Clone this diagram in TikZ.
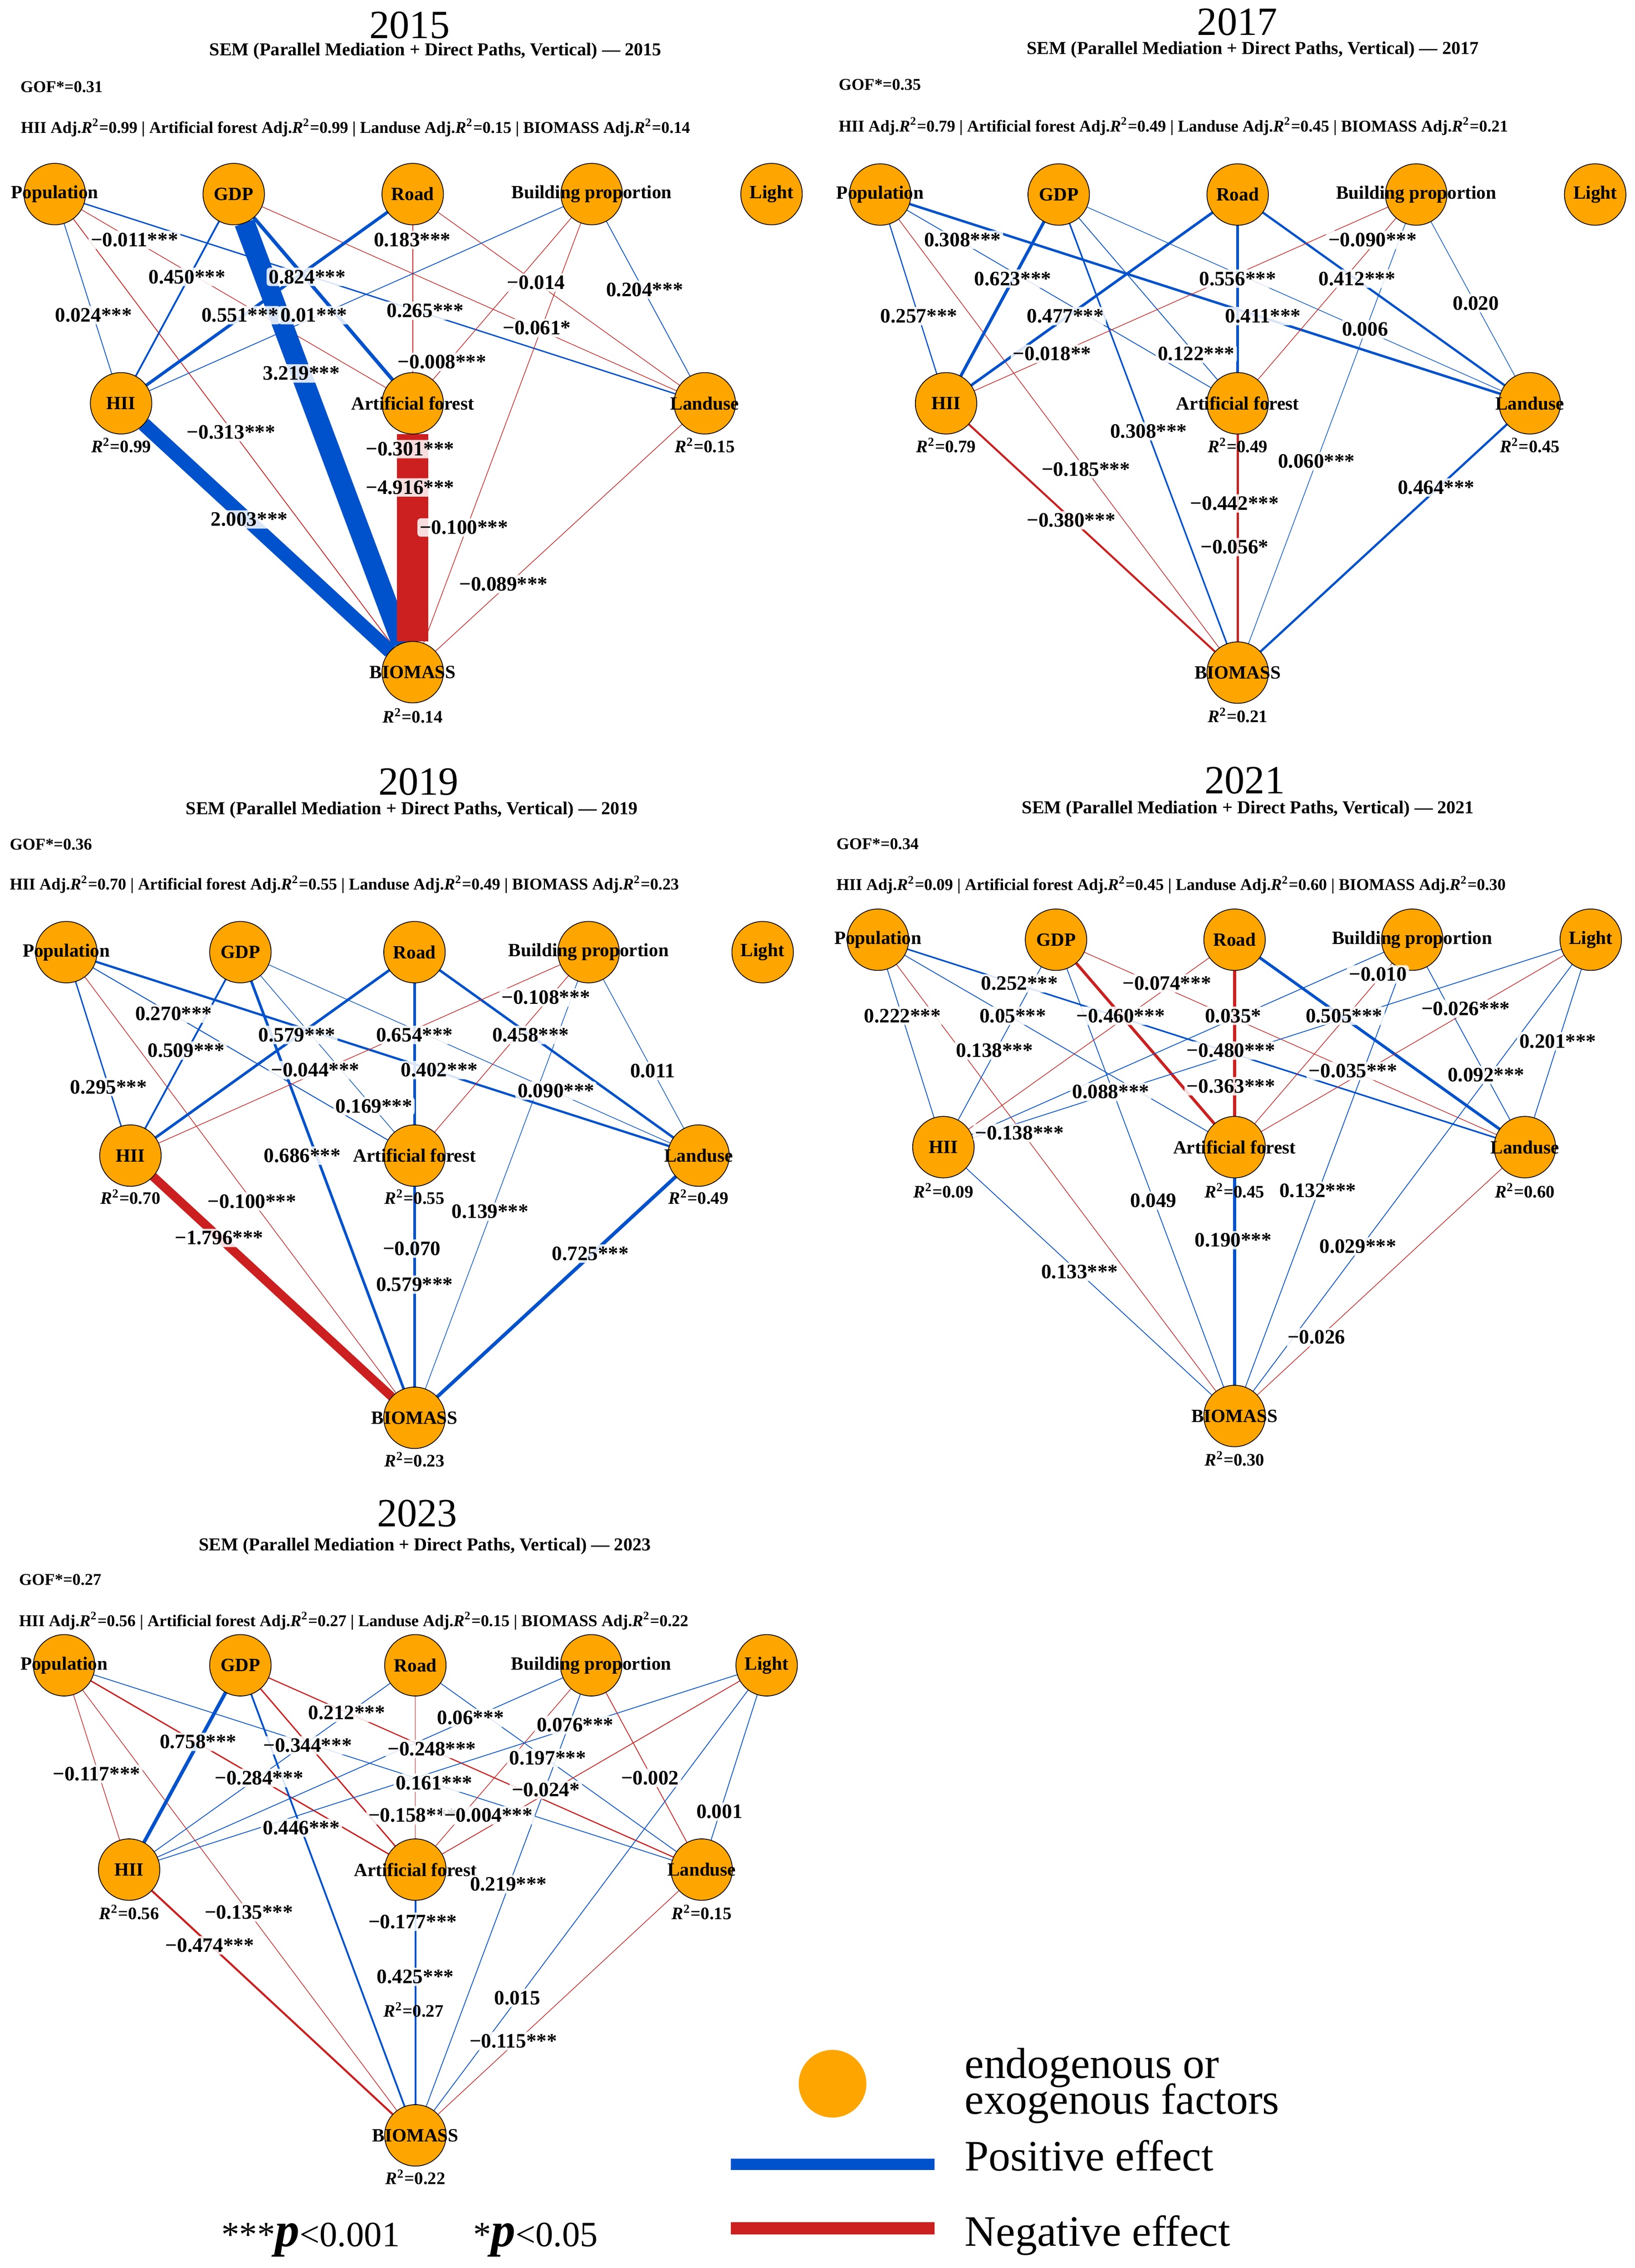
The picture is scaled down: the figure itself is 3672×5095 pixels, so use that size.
\documentclass[tikz,border=0pt]{standalone}
\usepackage{fontspec}
\setmainfont{Liberation Serif}
\definecolor{posblue}{RGB}{0,82,204}
\definecolor{negred}{RGB}{204,32,32}
\definecolor{nodeor}{RGB}{255,165,0}
\pgfdeclarelayer{bg}
\pgfdeclarelayer{edges}
\pgfsetlayers{bg,edges,main}
\tikzset{
  circ/.style={circle, draw=black, line width=0.35pt, fill=nodeor, minimum size=27.6pt, inner sep=0pt, outer sep=0pt},
  nlab/.style={font=\bfseries\fontsize{8.4}{9}\selectfont, inner sep=0pt},
  elab/.style={font=\bfseries\fontsize{9.2}{10}\selectfont, fill=white, fill opacity=0.85, text opacity=1, inner sep=1pt, rounded corners=1.5pt},
  rlab/.style={font=\bfseries\fontsize{7.9}{9}\selectfont, inner sep=0pt},
  ttl/.style={font=\fontsize{18}{20}\selectfont, inner sep=0pt},
  subt/.style={font=\bfseries\fontsize{8.2}{9}\selectfont, inner sep=0pt},
  info/.style={font=\bfseries\fontsize{7.4}{8}\selectfont, anchor=west, inner sep=0pt},
  legt/.style={font=\fontsize{19.5}{20}\selectfont, anchor=base west, inner sep=0pt},
  pvt/.style={font=\fontsize{16}{16}\selectfont, anchor=base west, inner sep=0pt},
}
\newcommand\mknode[4]{\node[circ] (#1) at (#2,#3) {}; \node[nlab] (#1t) at (#1) {#4};}
\newcommand\posE[3]{\draw[draw=posblue,line width=#3pt] (#1) -- (#2);}
\newcommand\negE[3]{\draw[draw=negred,line width=#3pt] (#1) -- (#2);}
\newcounter{lbc}
\newcommand\elb[3]{\stepcounter{lbc}\node[elab] (lab\arabic{lbc}) at (#1,#2) {#3};}
\newcommand\rsq[4]{\node[rlab] (#1) at (#2,#3) {\textit{R}\textsuperscript{2}=#4};}
\newcommand\adjR{Adj.\textit{R}\textsuperscript{2}}
\newcommand\subline[1]{SEM (Parallel Mediation + Direct Paths, Vertical) — #1}
\newcommand\bigp{\textbf{\textit{\fontsize{22}{22}\selectfont p}}}

\begin{document}
\begin{tikzpicture}[x=0.2pt,y=-0.2pt]
\useasboundingbox (0,0) rectangle (3672,5095);
\begin{pgfonlayer}{bg}
\fill[white] (0,0) rectangle (3672,5095);
\end{pgfonlayer}

% ================= 2015 =================
\begin{scope}
\node[ttl] (aT) at (920,57) {2015};
\node[subt] (aS) at (978,115) {\subline{2015}};
\node[info] (aGOF) at (45,195) {GOF*=0.31};
\node[info] (aADJ) at (46,287) {HII \adjR=0.99 | Artificial forest \adjR=0.99 | Landuse \adjR=0.15 | BIOMASS \adjR=0.14};
\mknode{aP}{123}{436}{Population}
\mknode{aG}{525}{436}{GDP}
\mknode{aR}{927}{436}{Road}
\mknode{aB}{1329}{436}{Building proportion}
\mknode{aL}{1733}{436}{Light}
\mknode{aH}{272}{906}{HII}
\mknode{aA}{927}{906}{Artificial forest}
\mknode{aU}{1583}{906}{Landuse}
\mknode{aY}{927}{1510}{BIOMASS}
\begin{pgfonlayer}{edges}
\posE{aP}{aU}{0.6}
\posE{aP}{aH}{0.35}
\negE{aP}{aA}{0.28}
\negE{aP}{aY}{0.35}
\posE{aG}{aH}{0.8}
\posE{aG}{aA}{1.6}
\negE{aG}{aU}{0.28}
\posE{aR}{aH}{1.4}
\posE{aR}{aA}{0.35}
\negE{aR}{aY}{0.4}
\negE{aR}{aU}{0.28}
\posE{aB}{aH}{0.35}
\negE{aB}{aA}{0.28}
\posE{aB}{aU}{0.35}
\negE{aB}{aY}{0.28}
\negE{aU}{aY}{0.28}
\posE{aH}{aY}{6.4}
\posE{aG}{aY}{9.2}
\negE{aA}{aY}{14}
\end{pgfonlayer}
\elb{302}{539}{−0.011***}
\elb{420}{622}{0.450***}
\elb{690}{622}{0.824***}
\elb{210}{708}{0.024***}
\elb{539}{708}{0.551***}
\elb{705}{708}{0.01***}
\elb{926}{539}{0.183***}
\elb{955}{698}{0.265***}
\elb{1204}{635}{−0.014}
\elb{1448}{651}{0.204***}
\elb{1206}{737}{−0.061*}
\elb{993}{813}{−0.008***}
\elb{677}{839}{3.219***}
\elb{519}{971}{−0.313***}
\elb{921}{1009}{−0.301***}
\elb{921}{1095}{−4.916***}
\elb{560}{1167}{2.003***}
\elb{1042}{1185}{−0.100***}
\elb{1131}{1312}{−0.089***}
\rsq{aHr}{272}{1000}{0.99}
\rsq{aUr}{1583}{1000}{0.15}
\rsq{aYr}{927}{1608}{0.14}
\end{scope}

% ================= 2017 =================
\begin{scope}[shift={(1836,0)}]
\node[ttl] (bT) at (943,49) {2017};
\node[subt] (bS) at (978,112) {\subline{2017}};
\node[info] (bGOF) at (47,190) {GOF*=0.35};
\node[info] (bADJ) at (47,284) {HII \adjR=0.79 | Artificial forest \adjR=0.49 | Landuse \adjR=0.45 | BIOMASS \adjR=0.21};
\mknode{bP}{141}{437}{Population}
\mknode{bG}{542}{437}{GDP}
\mknode{bR}{944}{437}{Road}
\mknode{bB}{1345}{437}{Building proportion}
\mknode{bL}{1747}{437}{Light}
\mknode{bH}{289}{906}{HII}
\mknode{bA}{944}{906}{Artificial forest}
\mknode{bU}{1600}{906}{Landuse}
\mknode{bY}{944}{1511}{BIOMASS}
\begin{pgfonlayer}{edges}
\posE{bP}{bA}{0.35}
\posE{bP}{bU}{1.1}
\posE{bP}{bH}{0.5}
\negE{bP}{bY}{0.28}
\posE{bG}{bH}{1.4}
\posE{bG}{bY}{0.7}
\posE{bG}{bA}{0.35}
\posE{bG}{bU}{0.28}
\posE{bR}{bH}{1.2}
\negE{bR}{bY}{0.3}
\posE{bR}{bA}{1.2}
\posE{bR}{bU}{1.0}
\negE{bB}{bH}{0.28}
\negE{bB}{bA}{0.28}
\posE{bB}{bY}{0.28}
\posE{bB}{bU}{0.28}
\negE{bH}{bY}{0.9}
\posE{bU}{bY}{1.0}
\negE{bA}{bY}{1.0}
\end{pgfonlayer}
\elb{326}{539}{0.308***}
\elb{439}{626}{0.623***}
\elb{228}{710}{0.257***}
\elb{557}{710}{0.477***}
\elb{527}{795}{−0.018**}
\elb{944}{626}{0.556***}
\elb{1247}{539}{−0.090***}
\elb{1212}{626}{0.412***}
\elb{1001}{710}{0.411***}
\elb{1230}{740}{0.006}
\elb{1479}{681}{0.020}
\elb{851}{795}{0.122***}
\elb{744}{969}{0.308***}
\elb{603}{1054}{−0.185***}
\elb{570}{1169}{−0.380***}
\elb{1121}{1036}{0.060***}
\elb{1390}{1095}{0.464***}
\elb{937}{1131}{−0.442***}
\elb{937}{1229}{−0.056*}
\rsq{bHr}{289}{1000}{0.79}
\rsq{bAr}{944}{1000}{0.49}
\rsq{bUr}{1600}{1000}{0.45}
\rsq{bYr}{944}{1607}{0.21}
\end{scope}

% ================= 2019 =================
\begin{scope}[shift={(0,1650)}]
\node[ttl] (cT) at (940,106) {2019};
\node[subt] (cS) at (925,170) {\subline{2019}};
\node[info] (cGOF) at (21,247) {GOF*=0.36};
\node[info] (cADJ) at (21,337) {HII \adjR=0.70 | Artificial forest \adjR=0.55 | Landuse \adjR=0.49 | BIOMASS \adjR=0.23};
\mknode{cP}{149}{489}{Population}
\mknode{cG}{540}{489}{GDP}
\mknode{cR}{931}{489}{Road}
\mknode{cB}{1322}{489}{Building proportion}
\mknode{cL}{1713}{489}{Light}
\mknode{cH}{293}{946}{HII}
\mknode{cA}{931}{946}{Artificial forest}
\mknode{cU}{1569}{946}{Landuse}
\mknode{cY}{931}{1535}{BIOMASS}
\begin{pgfonlayer}{edges}
\posE{cP}{cU}{1.0}
\posE{cP}{cA}{0.4}
\posE{cP}{cH}{0.6}
\negE{cP}{cY}{0.28}
\posE{cG}{cH}{0.8}
\posE{cG}{cY}{1.2}
\posE{cG}{cA}{0.28}
\posE{cG}{cU}{0.28}
\posE{cR}{cH}{1.2}
\negE{cR}{cY}{0.3}
\posE{cR}{cA}{1.2}
\posE{cR}{cU}{1.1}
\negE{cB}{cH}{0.28}
\negE{cB}{cA}{0.28}
\posE{cB}{cY}{0.28}
\posE{cB}{cU}{0.28}
\negE{cH}{cY}{4.0}
\posE{cU}{cY}{1.6}
\posE{cA}{cY}{1.2}
\end{pgfonlayer}
\elb{390}{627}{0.270***}
\elb{418}{710}{0.509***}
\elb{244}{792}{0.295***}
\elb{667}{675}{0.579***}
\elb{931}{675}{0.654***}
\elb{1192}{675}{0.458***}
\elb{1226}{591}{−0.108***}
\elb{708}{754}{−0.044***}
\elb{987}{754}{0.402***}
\elb{1249}{800}{0.090***}
\elb{1466}{756}{0.011}
\elb{840}{835}{0.169***}
\elb{679}{946}{0.686***}
\elb{566}{1049}{−0.100***}
\elb{492}{1131}{−1.796***}
\elb{1101}{1072}{0.139***}
\elb{925}{1155}{−0.070}
\elb{931}{1236}{0.579***}
\elb{1326}{1166}{0.725***}
\rsq{cHr}{293}{1039}{0.70}
\rsq{cAr}{931}{1039}{0.55}
\rsq{cUr}{1569}{1039}{0.49}
\rsq{cYr}{931}{1629}{0.23}
\end{scope}

% ================= 2021 =================
\begin{scope}[shift={(1836,1650)}]
\node[ttl] (dT) at (960,103) {2021};
\node[subt] (dS) at (967,168) {\subline{2021}};
\node[info] (dGOF) at (42,246) {GOF*=0.34};
\node[info] (dADJ) at (42,338) {HII \adjR=0.09 | Artificial forest \adjR=0.45 | Landuse \adjR=0.60 | BIOMASS \adjR=0.30};
\mknode{dP}{136}{461}{Population}
\mknode{dG}{536}{461}{GDP}
\mknode{dR}{937}{461}{Road}
\mknode{dB}{1336}{461}{Building proportion}
\mknode{dL}{1737}{461}{Light}
\mknode{dH}{283}{927}{HII}
\mknode{dA}{937}{927}{Artificial forest}
\mknode{dU}{1589}{927}{Landuse}
\mknode{dY}{937}{1531}{BIOMASS}
\begin{pgfonlayer}{edges}
\posE{dP}{dU}{0.7}
\posE{dP}{dA}{0.35}
\posE{dP}{dH}{0.35}
\negE{dP}{dY}{0.28}
\posE{dG}{dH}{0.35}
\negE{dG}{dA}{1.3}
\posE{dG}{dY}{0.35}
\negE{dG}{dU}{0.28}
\negE{dR}{dH}{0.28}
\negE{dR}{dY}{1.5}
\negE{dR}{dA}{1.35}
\posE{dR}{dU}{1.3}
\posE{dB}{dH}{0.35}
\negE{dB}{dA}{0.28}
\posE{dB}{dY}{0.35}
\posE{dB}{dU}{0.35}
\posE{dL}{dH}{0.35}
\negE{dL}{dA}{0.28}
\posE{dL}{dY}{0.35}
\posE{dL}{dU}{0.35}
\posE{dH}{dY}{0.35}
\posE{dA}{dY}{1.4}
\negE{dU}{dY}{0.28}
\end{pgfonlayer}
\elb{454}{559}{0.252***}
\elb{785}{559}{−0.074***}
\elb{1259}{539}{−0.010}
\elb{191}{632}{0.222***}
\elb{439}{632}{0.05***}
\elb{681}{632}{−0.460***}
\elb{934}{632}{0.035*}
\elb{1183}{632}{0.505***}
\elb{1456}{616}{−0.026***}
\elb{398}{710}{0.138***}
\elb{929}{710}{−0.480***}
\elb{1663}{689}{0.201***}
\elb{1203}{756}{−0.035***}
\elb{1502}{765}{0.092***}
\elb{929}{790}{−0.363***}
\elb{659}{803}{0.088***}
\elb{454}{895}{−0.138***}
\elb{755}{1047}{0.049}
\elb{1124}{1025}{0.132***}
\elb{934}{1136}{0.190***}
\elb{1214}{1150}{0.029***}
\elb{589}{1207}{0.133***}
\elb{1121}{1354}{−0.026}
\rsq{dHr}{283}{1025}{0.09}
\rsq{dAr}{937}{1025}{0.45}
\rsq{dUr}{1589}{1025}{0.60}
\rsq{dYr}{937}{1627}{0.30}
\end{scope}

% ================= 2023 =================
\begin{scope}[shift={(0,3300)}]
\node[ttl] (eT) at (937,100) {2023};
\node[subt] (eS) at (954,174) {\subline{2023}};
\node[info] (eGOF) at (42,249) {GOF*=0.27};
\node[info] (eADJ) at (42,341) {HII \adjR=0.56 | Artificial forest \adjR=0.27 | Landuse \adjR=0.15 | BIOMASS \adjR=0.22};
\mknode{eP}{144}{441}{Population}
\mknode{eG}{540}{441}{GDP}
\mknode{eR}{933}{441}{Road}
\mknode{eB}{1328}{441}{Building proportion}
\mknode{eL}{1722}{441}{Light}
\mknode{eH}{290}{900}{HII}
\mknode{eA}{933}{900}{Artificial forest}
\mknode{eU}{1576}{900}{Landuse}
\mknode{eY}{933}{1497}{BIOMASS}
\begin{pgfonlayer}{edges}
\posE{eP}{eU}{0.35}
\negE{eP}{eA}{0.6}
\negE{eP}{eH}{0.28}
\negE{eP}{eY}{0.28}
\posE{eG}{eH}{1.6}
\posE{eG}{eY}{0.8}
\negE{eG}{eA}{0.6}
\negE{eG}{eU}{0.5}
\posE{eR}{eH}{0.35}
\posE{eR}{eU}{0.35}
\negE{eR}{eY}{0.3}
\negE{eR}{eA}{0.35}
\posE{eB}{eH}{0.35}
\negE{eB}{eA}{0.28}
\posE{eB}{eY}{0.35}
\negE{eB}{eU}{0.35}
\posE{eL}{eH}{0.35}
\negE{eL}{eA}{0.35}
\posE{eL}{eY}{0.35}
\posE{eL}{eU}{0.35}
\negE{eH}{eY}{0.9}
\posE{eA}{eY}{0.8}
\negE{eU}{eY}{0.28}
\end{pgfonlayer}
\elb{779}{548}{0.212***}
\elb{1057}{559}{0.06***}
\elb{1292}{575}{0.076***}
\elb{445}{613}{0.758***}
\elb{691}{621}{−0.344***}
\elb{970}{629}{−0.248***}
\elb{1230}{649}{0.197***}
\elb{217}{685}{−0.117***}
\elb{582}{694}{−0.284***}
\elb{975}{705}{0.161***}
\elb{1226}{721}{−0.024*}
\elb{1460}{694}{−0.002}
\elb{1616}{770}{0.001}
\elb{927}{778}{−0.158***}
\elb{1097}{778}{−0.004***}
\elb{677}{806}{0.446***}
\elb{1142}{933}{0.219***}
\elb{559}{996}{−0.135***}
\elb{927}{1017}{−0.177***}
\elb{471}{1070}{−0.474***}
\elb{933}{1141}{0.425***}
\elb{1162}{1188}{0.015}
\elb{1153}{1285}{−0.115***}
\rsq{eHr}{290}{996}{0.56}
\rsq{eAr}{929}{1215}{0.27}
\rsq{eUr}{1576}{996}{0.15}
\rsq{eYr}{933}{1591}{0.22}
\end{scope}

% ================= legend =================
\node[circle, fill=nodeor, minimum size=30.4pt, inner sep=0pt] (legC) at (1870,4681) {};
\node[legt] (legT1) at (2166,4668) {endogenous or};
\node[legt] (legT2) at (2166,4749) {exogenous factors};
\fill[posblue] (1642,4849) rectangle (2099,4875);
\node[legt] (legT3) at (2166,4876) {Positive effect};
\fill[negred] (1642,4992) rectangle (2099,5020);
\node[legt] (legT4) at (2166,5046) {Negative effect};
\node[pvt] (pv1) at (497,5047) {***\bigp<0.001};
\node[pvt] (pv2) at (1062,5047) {*\bigp<0.05};
\end{tikzpicture}
\end{document}
